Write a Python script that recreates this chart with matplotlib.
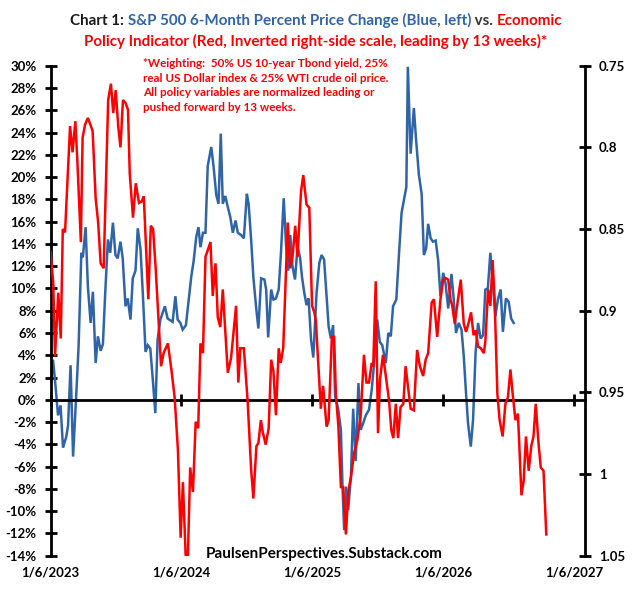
import numpy as np
import pandas as pd
import matplotlib
matplotlib.use("Agg")
import matplotlib.pyplot as plt
from matplotlib.offsetbox import TextArea, HPacker, AnnotationBbox

# weeks after 1/6/2023 and S&P 500 6-month % change (blue, left axis)
blue_wk = [0, 1, 1.9, 3, 4, 5, 6.3, 7, 8, 9, 10.3, 11.2, 12.3, 12.9, 14, 14.9, 16, 16.9,
           18, 18.9, 20, 20.9, 21.8, 22.9, 23.8, 24.9, 25.9, 26.8, 27.9, 28.8, 29.9, 30.8,
           31.9, 32.8, 33.9, 34.8, 35.9, 36.8, 37.9, 38.8, 39.8, 40.8, 41.8, 42.7, 43.8,
           44.7, 45.6, 46.7, 48.7, 49.8, 50.7, 51.8, 52.7, 54,
           56.1, 57.1, 58.1, 59, 59.8, 60.8, 61.8, 62.7, 64.1, 65, 66.1, 67, 67.9, 68.7,
           69.7, 70.7, 71.7, 72.7, 73.8, 74.7, 76, 77.1, 78.3, 79, 80, 80.9, 82, 82.9, 84,
           85.3, 86, 86.8, 88, 88.9, 89.9, 91, 91.9, 93, 93.9, 94.8, 95.6, 96.5, 97.5,
           98.5, 99.5, 100.3, 101.2, 102.1, 102.9, 103.9, 104.8, 106.1, 107.2, 108.1,
           109.1, 110, 110.9, 111.8, 112.7, 113.5, 114.7, 115.8, 116.4, 117.1, 117.8,
           118.7, 119.8, 120.7, 121.7, 122.8, 123.7, 124.7, 125.7, 127, 128.1, 129.4,
           130.3, 131.3, 132.3, 133.7, 134.7, 135.7, 136.6, 137.9, 139, 140, 141, 141.9,
           142.5, 143.6, 144.9, 145.8, 146.9, 148, 148.9, 149.8, 150.6, 151.6, 152.5,
           153.6, 154.6, 155.5, 156.6, 157.5, 158.6, 159.9, 160.8, 161.7, 162.8, 163.9,
           164.8, 165.7, 166.5, 167.6, 168.5, 169.5, 170.5, 171.5, 172.5, 173.4, 174.4,
           175.4, 176.3, 177.4, 178.4, 179.5, 180.4, 181.6, 182.7, 183.7, 184.7]
blue_pct = [0.9, 3.6, 1.5, -1.4, -0.5, -4.3, -3.3, -2.3, 3.1, -5.1, 0.6, 4.8, 13.2, 12.8,
            15.5, 10.2, 6.9, 9.7, 3.3, 5.7, 4.4, 5.0, 9.5, 14.4, 13.2, 15.9, 13.0, 12.7,
            14.2, 12.7, 8.4, 9.1, 7.2, 10.9, 11.6, 15.4, 13.5, 9.6, 4.3, 4.9, 4.6, 1.8,
            -1.2, 5.4, 7.2, 7.8, 8.4, 7.3, 7.0, 9.3, 7.2, 6.9, 6.3, 6.7,
            11.0, 12.5, 14.6, 15.5, 13.7, 15.0, 15.0, 21.0, 22.7, 21.0, 18.4, 17.6, 23.9,
            17.6, 18.3, 17.3, 16.4, 15.0, 16.1, 15.0, 14.8, 14.5, 18.5, 17.6, 14.4, 11.0,
            8.3, 6.4, 10.9, 10.8, 9.9, 5.6, 9.9, 9.0, 9.1, 9.9, 13.2, 18.1, 14.0, 11.6,
            14.8, 12.0, 10.8, 13.7, 12.8, 11.0, 9.6, 8.5, 9.1, 5.4, 3.8, 9.6, 12.3, 13.0,
            12.6, 9.6, 6.6, 5.5, 6.7, 0.3, -0.8, -2.7, -7.5, -11.7, -7.8, -9.9, -6.9,
            -0.8, -5.5, 1.5, -2.7, -2.1, -1.4, -0.9, 0.9, 4.2, 7.2, 5.2, 4.9, 3.3, 6.0,
            5.7, 8.4, 9.0, 13.2, 16.8, 18.0, 19.1, 29.9, 22.1, 26.2, 23.3, 20.2, 18.5,
            13.0, 13.6, 15.8, 14.5, 14.2, 14.3, 12.5, 9.3, 11.4, 10.5, 8.2, 11.3, 9.0,
            6.0, 6.9, 6.3, 3.9, 0.6, -2.1, -4.2, -1.8, 4.2, 6.9, 5.5, 5.8, 9.9, 10.0,
            13.2, 10.8, 7.5, 9.0, 9.9, 6.1, 9.1, 8.8, 7.3, 6.9]

# economic policy indicator (red, inverted right axis)
red_wk = [0, 1.1, 1.8, 3.1, 4.1, 4.9, 5.8, 7.8, 8.8, 9.9, 10.7, 12.1, 12.8, 13.8, 14.9,
          15.9, 16.8, 18, 19, 20, 21.2, 23, 24.1, 25, 26, 27, 27.9, 28.9, 30, 30.9, 31.6,
          32.9, 34, 35.3, 36.4, 37.2, 39, 40, 40.9, 41.9, 44.1, 45.1, 46.8, 48.2, 49.5,
          50.8, 51.9, 52.8, 53.9, 54.8, 55.7, 56.8, 57.9, 58.9, 59.8, 60.8, 61.8, 63.8,
          64.7, 65.8, 66.7, 67.7, 68.7, 70.7, 72, 74, 74.9, 75.7, 77.1, 78.6, 80, 80.9,
          82.1, 82.9, 83.9, 84.6, 85.8, 87, 88, 88.9, 89.9, 91, 91.8, 92.8, 94.6, 95.6,
          96.5, 97.6, 98.5, 99.9, 100.8, 102.1, 103.2, 104.3, 105.2, 105.8, 107.8, 108.7,
          110.1, 110.9, 112.2, 113.1, 113.8, 114.8, 115.8, 116.7, 117.8, 118.8, 119.8,
          121.1, 122.4, 123.7, 125, 126, 127, 128.1, 128.7, 129.7, 130.6, 131.4, 132.6,
          133.9, 135, 135.9, 136.7, 137.7, 138.6, 139.6, 140.7, 141.6, 142.7, 143.6,
          144.9, 146.2, 147.3, 148.6, 149.6, 150.6, 152, 152.9, 154.2, 155.5, 156.6,
          157.5, 158.6, 159.5, 160.2, 161.2, 162.5, 163.6, 164.8, 165.7, 166.8, 167.7,
          168.7, 169.6, 170.5, 171.6, 172.8, 173.4, 174.5, 175.4, 176.3, 177.1, 178.2,
          179.1, 180.3, 181.4, 182.4, 183.4, 184.3, 185.4, 186.4, 187.8, 188.7, 189.6,
          190.7, 191.7, 192.6, 193.5, 194.6, 195.5, 196.6, 197.7]
red_val = [0.864, 0.883, 0.928, 0.889, 0.917, 0.850, 0.852, 0.787, 0.803, 0.784, 0.808,
           0.858, 0.794, 0.786, 0.782, 0.786, 0.790, 0.831, 0.846, 0.871, 0.874, 0.771,
           0.761, 0.779, 0.765, 0.787, 0.800, 0.771, 0.773, 0.777, 0.816, 0.843, 0.822,
           0.834, 0.833, 0.830, 0.893, 0.848, 0.850, 0.873, 0.934, 0.926, 0.920, 0.936,
           0.953, 0.985, 1.039, 1.005, 1.050, 1.050, 0.996, 1.011, 0.968, 0.972, 0.920,
           0.926, 0.867, 0.858, 0.891, 0.871, 0.904, 0.910, 0.887, 0.938, 0.929, 0.897,
           0.944, 0.923, 0.923, 0.955, 0.997, 1.015, 0.983, 0.981, 0.967, 0.974, 0.982,
           0.972, 0.930, 0.937, 0.964, 0.923, 0.932, 0.923, 0.846, 0.874, 0.867, 0.848,
           0.867, 0.827, 0.817, 0.835, 0.837, 0.897, 0.901, 0.906, 0.960, 0.946, 0.971,
           0.967, 0.916, 0.916, 0.951, 0.971, 1.008, 1.008, 1.037, 1.010, 1.002, 0.987,
           0.979, 0.964, 0.927, 0.944, 0.944, 0.932, 0.934, 0.882, 0.975, 0.942, 0.927,
           0.942, 0.955, 0.973, 0.978, 0.957, 0.978, 0.959, 0.957, 0.934, 0.948, 0.960,
           0.961, 0.924, 0.934, 0.940, 0.930, 0.926, 0.895, 0.893, 0.916, 0.893, 0.881,
           0.880, 0.881, 0.893, 0.897, 0.908, 0.893, 0.881, 0.908, 0.913, 0.907, 0.901,
           0.915, 0.912, 0.922, 0.923, 0.926, 0.919, 0.887, 0.897, 0.869, 0.893, 0.951,
           0.967, 0.977, 0.957, 0.953, 0.936, 0.951, 0.967, 0.963, 1.013, 1.004, 0.977,
           0.998, 0.983, 0.977, 0.957, 0.981, 0.996, 0.998, 1.037]

left_ticks = list(range(-14, 31, 2))
right_ticks = [0.75, 0.8, 0.85, 0.9, 0.95, 1.0, 1.05]
right_labels = ["0.75", "0.8", "0.85", "0.9", "0.95", "1", "1.05"]
x_ticks = ["2023-01-06", "2024-01-06", "2025-01-06", "2026-01-06", "2027-01-06"]
x_labels = ["1/6/2023", "1/6/2024", "1/6/2025", "1/6/2026", "1/6/2027"]

BLUE = "#2F65A8"
RED = "#FF0000"
FONT = ["Lato", "DejaVu Sans"]
plt.rcParams["font.family"] = FONT
plt.rcParams["font.weight"] = "bold"

start = pd.Timestamp("2023-01-06")
blue_dates = start + pd.to_timedelta(np.array(blue_wk) * 7, unit="D")
red_dates = start + pd.to_timedelta(np.array(red_wk) * 7, unit="D")

fig = plt.figure(figsize=(6.32, 5.90), dpi=100)
ax = fig.add_axes([50.5 / 632, 1 - 555.7 / 590, (585 - 50.5) / 632, (555.7 - 65.7) / 590])
ax2 = ax.twinx()

ax.plot(blue_dates, blue_pct, color=BLUE, lw=1.8, solid_joinstyle="miter")
ax2.plot(red_dates, red_val, color=RED, lw=1.8, solid_joinstyle="miter")

ax.set_ylim(-14, 30)
ax.set_yticks(left_ticks)
ax.set_yticklabels([f"{v}%" for v in left_ticks])
ax2.set_ylim(1.05, 0.75)
ax2.set_yticks(right_ticks)
ax2.set_yticklabels(right_labels)

ax.set_xlim(pd.Timestamp("2023-01-06"), pd.Timestamp("2027-02-06"))
xt = pd.to_datetime(x_ticks)
ax.set_xticks(xt)
ax.spines["bottom"].set_position(("data", 0))
ax.tick_params(axis="x", direction="inout", length=8, width=2, labelbottom=False)

for s in ["top", "right"]:
    ax.spines[s].set_visible(False)
for s in ["top", "left", "bottom"]:
    ax2.spines[s].set_visible(False)
ax.spines["left"].set_linewidth(2)
ax.spines["bottom"].set_linewidth(2)
ax2.spines["right"].set_linewidth(2)

ax.tick_params(axis="y", direction="inout", length=8, width=2, pad=6, labelsize=9.5)
ax2.tick_params(axis="y", direction="inout", length=8, width=2, pad=6, labelsize=9.5)

secx = ax.secondary_xaxis("bottom")
secx.set_xticks(xt)
secx.set_xticklabels(x_labels)
secx.tick_params(length=0, pad=8, labelsize=9.5)
secx.spines["bottom"].set_visible(False)

# title, two lines with coloured parts
tprops = dict(fontsize=10.9, fontweight="bold", family=FONT)
line1 = HPacker(children=[
    TextArea("Chart 1: ", textprops=dict(color="#1a1a1a", **tprops)),
    TextArea("S&P 500 6-Month Percent Price Change (Blue, left)", textprops=dict(color=BLUE, **tprops)),
    TextArea(" vs. ", textprops=dict(color="#333333", **tprops)),
    TextArea("Economic", textprops=dict(color=RED, **tprops)),
], align="baseline", pad=0, sep=0)
fig.add_artist(AnnotationBbox(line1, (0.5, 1 - 20 / 590), xycoords="figure fraction",
                              frameon=False, box_alignment=(0.5, 0.5)))
fig.text(0.5, 1 - 41 / 590, "Policy Indicator (Red, Inverted right-side scale, leading by 13 weeks)*",
         ha="center", va="center", color=RED, **tprops)

note = ("*Weighting:  50% US 10-year Tbond yield, 25%\n"
        "real US Dollar index & 25% WTI crude oil price.\n"
        "All policy variables are normalized leading or\n"
        "pushed forward by 13 weeks.")
fig.text(143 / 632, 1 - 58 / 590, note, ha="left", va="top", color=RED,
         fontsize=8.4, fontweight="bold", linespacing=1.4)

fig.text(324 / 632, 1 - 554 / 590, "PaulsenPerspectives.Substack.com", ha="center",
         va="center", color="black", fontsize=11, fontweight="bold")

fig.savefig("out.png", dpi=100)
